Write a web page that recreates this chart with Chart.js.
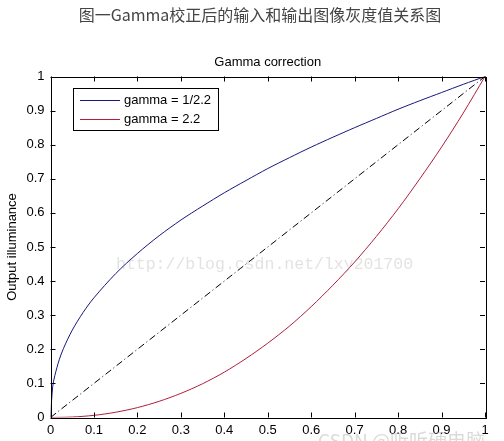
<!DOCTYPE html>
<html>
<head>
<meta charset="utf-8">
<script src="https://cdn.jsdelivr.net/npm/chart.js@4/dist/chart.umd.min.js"></script>
<style>
html,body{margin:0;padding:0;background:#fff;}
#wrap{width:504px;height:441px;}
</style>
</head>
<body>
<div id="wrap"><canvas id="c" width="504" height="441"></canvas></div>
<script>
const mainTitle = "图一Gamma校正后的输入和输出图像灰度值关系图";
const plotTitle = "Gamma correction";
const yAxisLabel = "Output illuminance";
const tickValues = [0,0.1,0.2,0.3,0.4,0.5,0.6,0.7,0.8,0.9,1];
const tickLabels = ["0","0.1","0.2","0.3","0.4","0.5","0.6","0.7","0.8","0.9","1"];

const blueX = [0,0.005,0.01,0.02,0.03,0.05,0.075,0.1,0.15,0.2,0.25,0.3,0.35,0.4,0.45,0.5,0.55,0.6,0.65,0.7,0.75,0.8,0.85,0.9,0.95,1];
const blueY = [0,0.090,0.123,0.169,0.203,0.256,0.308,0.351,0.422,0.481,0.533,0.579,0.620,0.659,0.695,0.730,0.762,0.793,0.822,0.850,0.877,0.904,0.929,0.953,0.977,1];

const redX = [0,0.05,0.1,0.15,0.2,0.25,0.3,0.35,0.4,0.45,0.5,0.55,0.6,0.65,0.7,0.75,0.8,0.85,0.9,0.95,1];
const redY = [0,0.0014,0.0063,0.0154,0.029,0.0474,0.0707,0.099,0.133,0.173,0.218,0.268,0.325,0.388,0.456,0.531,0.612,0.700,0.793,0.893,1];

const diagX = [0,1];
const diagY = [0,1];

const seriesNames = ["gamma = 1/2.2","gamma = 2.2",""];
const watermark1 = "http://blog.csdn.net/lxy201700";
const watermark2 = "CSDN @听听硬电脑";

function pts(xs, ys){ return xs.map((x,i)=>({x:x,y:ys[i]})); }

const FONT = '"Liberation Sans", Arial, sans-serif';

const boxPlugin = {
  id:'boxPlugin',
  afterDatasetsDraw(chart){
    const ctx = chart.ctx, a = chart.chartArea;
    const xs = chart.scales.x, ys = chart.scales.y;
    ctx.save();
    ctx.strokeStyle = '#000';
    ctx.lineWidth = 1;
    ctx.strokeRect(Math.round(a.left)+0.5, Math.round(a.top)+0.5, Math.round(a.right-a.left), Math.round(a.bottom-a.top));
    const L = 5;
    ctx.beginPath();
    tickValues.forEach(v=>{
      const px = Math.round(xs.getPixelForValue(v))+0.5;
      ctx.moveTo(px, a.bottom); ctx.lineTo(px, a.bottom-L);
      ctx.moveTo(px, a.top); ctx.lineTo(px, a.top+L);
      const py = Math.round(ys.getPixelForValue(v))+0.5;
      ctx.moveTo(a.left, py); ctx.lineTo(a.left+L, py);
      ctx.moveTo(a.right, py); ctx.lineTo(a.right-L, py);
    });
    ctx.stroke();
    // legend
    const lx = 73, ly = 88, lw = 145, lh = 42;
    ctx.fillStyle = '#fff';
    ctx.fillRect(lx+0.5, ly+0.5, lw, lh);
    ctx.strokeRect(lx+0.5, ly+0.5, lw, lh);
    ctx.font = '13px ' + FONT;
    ctx.textBaseline = 'middle';
    ctx.textAlign = 'left';
    [0,1].forEach(i=>{
      const ds = chart.data.datasets[i];
      const yy = ly + 11.5 + i*19;
      ctx.strokeStyle = ds.borderColor;
      ctx.beginPath(); ctx.moveTo(80, Math.round(yy)+0.5); ctx.lineTo(120, Math.round(yy)+0.5); ctx.stroke();
      ctx.fillStyle = '#000';
      ctx.fillText(ds.label, 124, yy+1);
    });
    ctx.restore();
  },
  afterDraw(chart){
    const ctx = chart.ctx, a = chart.chartArea;
    ctx.save();
    ctx.textBaseline = 'middle';
    ctx.textAlign = 'center';
    ctx.fillStyle = '#444';
    ctx.font = '16px "Noto Sans CJK SC", sans-serif';
    ctx.fillText(mainTitle, 260, 15);
    ctx.fillStyle = '#000';
    ctx.font = '13px ' + FONT;
    ctx.fillText(plotTitle, (a.left + a.right)/2, 62);
    ctx.textAlign = 'left';
    ctx.fillStyle = 'rgba(150,150,150,0.28)';
    ctx.font = '16.5px "Liberation Mono", "DejaVu Sans Mono", monospace';
    ctx.fillText(watermark1, 116, 265);
    ctx.fillStyle = 'rgba(150,150,150,0.35)';
    ctx.font = '19px "Noto Sans CJK SC", sans-serif';
    ctx.fillText(watermark2, 318, 441);
    ctx.restore();
  }
};

new Chart(document.getElementById('c'), {
  type:'line',
  data:{
    datasets:[
      {label:seriesNames[0], data:pts(blueX,blueY), borderColor:'#16167e', borderWidth:1, pointRadius:0, tension:0.3, fill:false},
      {label:seriesNames[1], data:pts(redX,redY), borderColor:'#b01e3c', borderWidth:1, pointRadius:0, tension:0.3, fill:false},
      {label:seriesNames[2], data:pts(diagX,diagY), borderColor:'#000', borderWidth:1, borderDash:[7,3,1,3], pointRadius:0, fill:false}
    ]
  },
  options:{
    responsive:false,
    animation:false,
    layout:{padding:{left:0,right:19,top:76.5,bottom:0}},
    plugins:{
      legend:{display:false},
      tooltip:{enabled:false},
      title:{display:false},
      subtitle:{display:false}
    },
    scales:{
      x:{type:'linear', min:0, max:1,
        afterBuildTicks(s){ s.ticks = tickValues.map(v=>({value:v})); },
        afterFit(s){ s.height = 23.5; },
        grid:{display:false, drawTicks:false}, border:{display:false},
        ticks:{padding:5, color:'#000', autoSkip:false, maxRotation:0, font:{size:13, family:FONT},
          callback:(v,i)=>tickLabels[i]}
      },
      y:{type:'linear', min:0, max:1,
        afterBuildTicks(s){ s.ticks = tickValues.map(v=>({value:v})); },
        afterFit(s){ s.width = 50.5; },
        grid:{display:false, drawTicks:false}, border:{display:false},
        title:{display:true, text:yAxisLabel, color:'#000', font:{size:13, family:FONT}, padding:{top:5,bottom:0}},
        ticks:{padding:6, color:'#000', autoSkip:false, font:{size:13, family:FONT},
          callback:(v,i)=>tickLabels[i]}
      }
    }
  },
  plugins:[boxPlugin]
});
</script>
</body>
</html>
